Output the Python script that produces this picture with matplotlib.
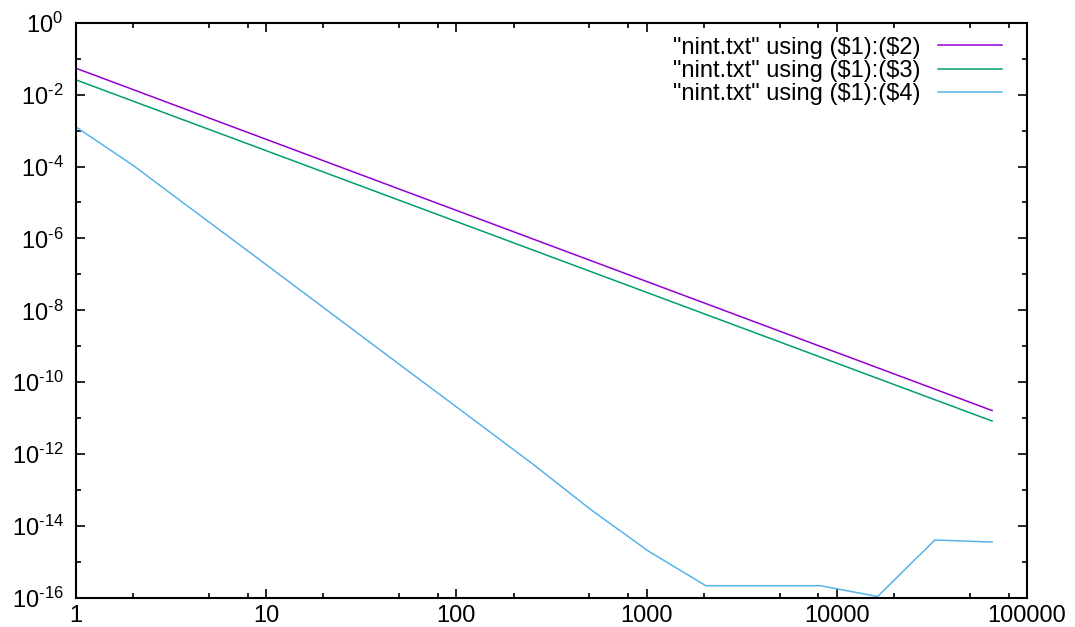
import matplotlib
matplotlib.use("Agg")
import math
import matplotlib.pyplot as plt
from matplotlib.ticker import FixedLocator, FuncFormatter, NullFormatter

plt.rcParams['font.family'] = ['Liberation Sans', 'DejaVu Sans']
plt.rcParams['mathtext.fontset'] = 'custom'
plt.rcParams['mathtext.rm'] = 'Liberation Sans'
plt.rcParams['mathtext.it'] = 'Liberation Sans'

n_vals = [1, 2, 4, 8, 16, 32, 64, 128, 256, 512, 1024, 2048, 4096, 8192,
          16384, 32768, 65536]
col2 = [5.41e-2, 1.374e-2, 3.49e-3, 8.87e-4, 2.254e-4, 5.73e-5, 1.455e-5,
        3.70e-6, 9.40e-7, 2.388e-7, 6.07e-8, 1.542e-8, 3.92e-9, 9.95e-10,
        2.53e-10, 6.43e-11, 1.633e-11]
col3 = [2.57e-2, 6.56e-3, 1.675e-3, 4.28e-4, 1.091e-4, 2.786e-5, 7.11e-6,
        1.816e-6, 4.63e-7, 1.183e-7, 3.02e-8, 7.71e-9, 1.968e-9, 5.02e-10,
        1.282e-10, 3.27e-11, 8.36e-12]
col4 = [1.26e-3, 1.07e-4, 6.9e-6, 4.5e-7, 2.9e-8, 1.86e-9, 1.2e-10, 7.8e-12,
        5.0e-13, 2.8e-14, 2.0e-15, 2.2e-16, 2.2e-16, 2.2e-16, 1.1e-16,
        4.1e-15, 3.6e-15]
labels = ['"nint.txt" using (\\$1):(\\$2)', '"nint.txt" using (\\$1):(\\$3)',
          '"nint.txt" using (\\$1):(\\$4)']
colors = ['#9400D3', '#009E73', '#56B4E9']

FS = 17

fig = plt.figure(figsize=(10.75, 6.27), dpi=100)
ax = fig.add_axes([76/1075, 1 - 598/627, (1027-76)/1075, (598-22.7)/627])

for ys, lab, c in zip([col2, col3, col4], labels, colors):
    ax.plot(n_vals, ys, color=c, lw=1.1, label=lab)

ax.set_xscale('log')
ax.set_yscale('log')
ax.set_xlim(1, 100000)
ax.set_ylim(1e-16, 1)

xmaj = [1, 10, 100, 1000, 10000, 100000]
xmin = [m * 10**d for d in range(5) for m in (2, 5, 8)]
ax.xaxis.set_major_locator(FixedLocator(xmaj))
ax.xaxis.set_minor_locator(FixedLocator(xmin))
ax.xaxis.set_major_formatter(FuncFormatter(lambda v, p: '%d' % round(v)))
ax.xaxis.set_minor_formatter(NullFormatter())

ymaj = [10.0**e for e in range(-16, 1, 2)]
ymin = [10.0**e for e in range(-15, 0, 2)]
ax.yaxis.set_major_locator(FixedLocator(ymaj))
ax.yaxis.set_minor_locator(FixedLocator(ymin))

def yfmt(v, p):
    e = int(round(math.log10(v)))
    if e < 0:
        return r'$\mathregular{10^{\text{-}%d}}$' % (-e)
    return r'$\mathregular{10^{%d}}$' % e
ax.yaxis.set_major_formatter(FuncFormatter(yfmt))
ax.yaxis.set_minor_formatter(NullFormatter())

ax.tick_params(which='both', direction='in', top=True, right=True,
               width=1.2, labelsize=FS, colors='black')
ax.tick_params(which='major', length=6.5)
ax.tick_params(which='minor', length=3.5)
ax.tick_params(axis='x', which='major', pad=5)
ax.tick_params(axis='y', which='major', pad=9)
for s in ax.spines.values():
    s.set_linewidth(1.5)

leg = ax.legend(loc='upper right', bbox_to_anchor=(0.9737, 0.976),
                frameon=False, markerfirst=False, fontsize=FS,
                handlelength=2.7, handletextpad=0.75, labelspacing=0.06,
                borderpad=0, borderaxespad=0)

fig.savefig('out.png', dpi=100)
